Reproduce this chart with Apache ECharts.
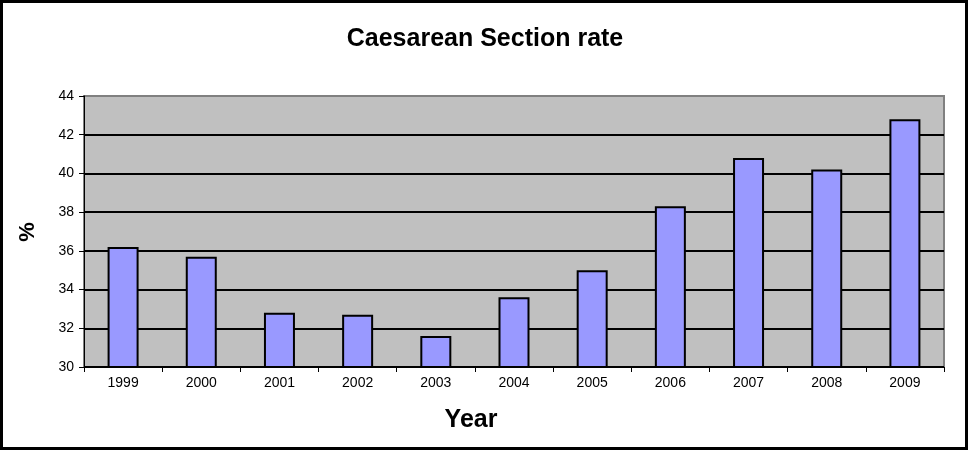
<!DOCTYPE html>
<html><head><meta charset="utf-8">
<script src="https://cdn.jsdelivr.net/npm/echarts@6/dist/echarts.min.js"></script>
<style>html,body{margin:0;padding:0;background:#fff}#c{width:968px;height:450px}</style>
</head><body><div id="c"></div>
<script>
const years = ['1999','2000','2001','2002','2003','2004','2005','2006','2007','2008','2009'];
const rates = [36.2, 35.7, 32.8, 32.7, 31.6, 33.6, 35.0, 38.3, 40.8, 40.2, 42.8];
const chart = echarts.init(document.getElementById('c'));
const F = '"Liberation Sans", Arial, sans-serif';
chart.setOption({
  animation: false,
  backgroundColor: '#fff',
  textStyle: {fontFamily: F},
  grid: {left: 84, right: 24, top: 96, bottom: 83, show: true, backgroundColor: '#C0C0C0', borderColor: '#808080', borderWidth: 2},
  xAxis: {
    type: 'category', data: years,
    axisLine: {lineStyle: {color: '#000', width: 1}},
    axisTick: {show: true, length: 5, lineStyle: {color: '#000'}},
    axisLabel: {color: '#000', fontSize: 14, margin: 9, fontFamily: F}
  },
  yAxis: {
    type: 'value', min: 30, max: 44, interval: 2,
    axisLine: {show: true, lineStyle: {color: '#000', width: 1}},
    axisTick: {show: true, length: 5, lineStyle: {color: '#000'}},
    axisLabel: {color: '#000', fontSize: 14, margin: 10, fontFamily: F},
    splitLine: {show: true, showMaxLine: false, lineStyle: {color: '#000', width: 2}}
  },
  series: [{
    type: 'bar', data: rates, barWidth: 31,
    itemStyle: {color: '#9999FF', borderColor: '#000', borderWidth: 2}
  }],
  graphic: [
    {type: 'rect', shape: {x: 1.5, y: 1.5, width: 965, height: 447}, style: {fill: null, stroke: '#000', lineWidth: 3}, silent: true},
    {type: 'text', x: 485, y: 39, style: {text: 'Caesarean Section rate', font: 'bold 25px ' + F, fill: '#000', textAlign: 'center', textVerticalAlign: 'middle'}},
    {type: 'text', x: 471, y: 420, style: {text: 'Year', font: 'bold 25px ' + F, fill: '#000', textAlign: 'center', textVerticalAlign: 'middle'}},
    {type: 'text', x: 28, y: 232, rotation: Math.PI / 2, style: {text: '%', font: 'bold 22px ' + F, fill: '#000', textAlign: 'center', textVerticalAlign: 'middle'}}
  ]
});
</script></body></html>
